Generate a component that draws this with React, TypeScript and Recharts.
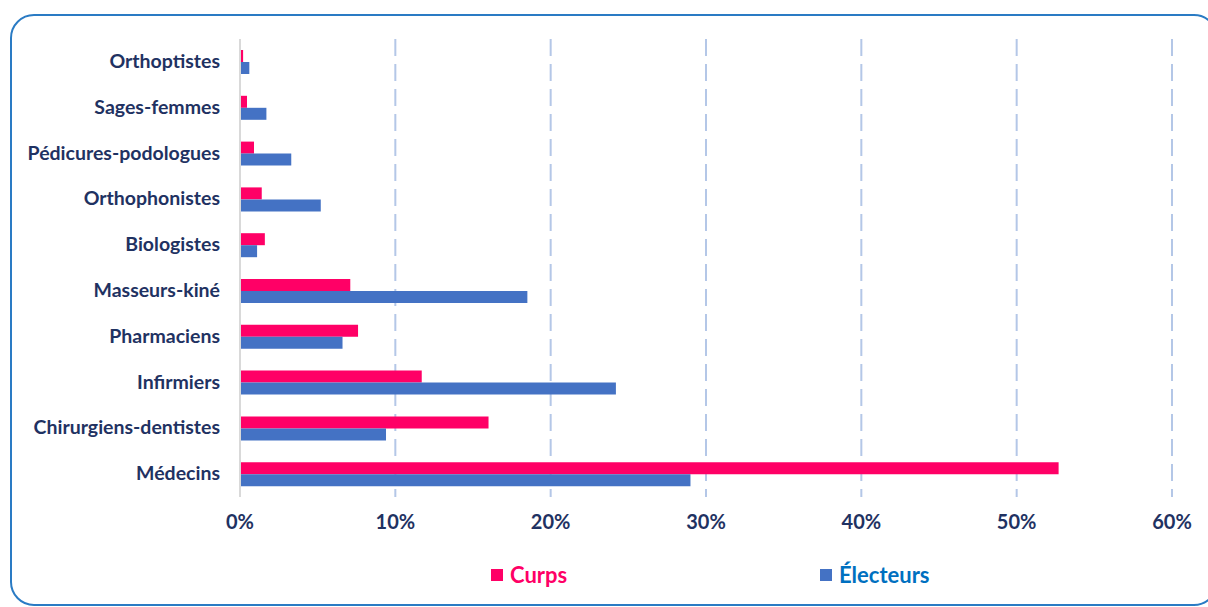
import React from "react";
import { BarChart, Bar, XAxis, YAxis, CartesianGrid } from "recharts";

const categories = [
  "Orthoptistes",
  "Sages-femmes",
  "Pédicures-podologues",
  "Orthophonistes",
  "Biologistes",
  "Masseurs-kiné",
  "Pharmaciens",
  "Infirmiers",
  "Chirurgiens-dentistes",
  "Médecins",
];
const curps = [0.2, 0.45, 0.9, 1.4, 1.6, 7.1, 7.6, 11.7, 16.0, 52.7];
const electeurs = [0.6, 1.7, 3.3, 5.2, 1.1, 18.5, 6.6, 24.2, 9.4, 29.0];
const xTicks = [0, 10, 20, 30, 40, 50, 60];

const data = categories.map((name, i) => ({ name, curps: curps[i], electeurs: electeurs[i] }));

const FONT = "Lato, 'Open Sans', sans-serif";
const NAVY = "#1F3262";

const YTick = (props: any) => {
  const { y, payload } = props;
  return (
    <text x={220} y={y} dy={6} textAnchor="end" fontFamily={FONT} fontWeight={700} fontSize={19.5} fill={NAVY}>
      {payload.value}
    </text>
  );
};

const XTick = (props: any) => {
  const { x, y, payload } = props;
  return (
    <text x={x} y={y} dy={24} textAnchor="middle" fontFamily={FONT} fontWeight={700} fontSize={20} fill={NAVY}>
      {payload.value}%
    </text>
  );
};

export default function App() {
  return (
    <div style={{ position: "absolute", left: 0, top: 0, width: 1208, height: 607, background: "#fff", overflow: "hidden" }}>
      <div
        style={{
          position: "absolute",
          left: 10,
          top: 14,
          width: 1204,
          height: 588,
          border: "2px solid #2A7BC4",
          borderRadius: 24,
        }}
      />
      <BarChart
        width={1208}
        height={607}
        data={data}
        layout="vertical"
        margin={{ top: 39, right: 36, bottom: 80, left: 0 }}
        barSize={12}
        barGap={0}
      >
        <CartesianGrid horizontal={false} stroke="#B4C7E7" strokeWidth={2} strokeDasharray="17 8" />
        <XAxis
          type="number"
          domain={[0, 60]}
          ticks={xTicks}
          axisLine={false}
          tickLine={false}
          height={30}
          tick={<XTick />}
          interval={0}
        />
        <YAxis
          type="category"
          dataKey="name"
          width={240}
          axisLine={{ stroke: "#D9D9D9", strokeWidth: 2 }}
          tickLine={false}
          tick={<YTick />}
          interval={0}
        />
        <Bar dataKey="curps" fill="#FF0066" isAnimationActive={false} />
        <Bar dataKey="electeurs" fill="#4472C4" isAnimationActive={false} />
      </BarChart>
      <div style={{ position: "absolute", left: 491, top: 561, display: "flex", alignItems: "center", fontFamily: FONT, fontWeight: 700, fontSize: 22, color: "#FF0066" }}>
        <span style={{ display: "inline-block", width: 12, height: 12, background: "#FF0066", marginRight: 7 }} />
        <span>Curps</span>
      </div>
      <div style={{ position: "absolute", left: 820, top: 561, display: "flex", alignItems: "center", fontFamily: FONT, fontWeight: 700, fontSize: 22, color: "#0070C0" }}>
        <span style={{ display: "inline-block", width: 12, height: 12, background: "#4472C4", marginRight: 7 }} />
        <span>Électeurs</span>
      </div>
    </div>
  );
}
